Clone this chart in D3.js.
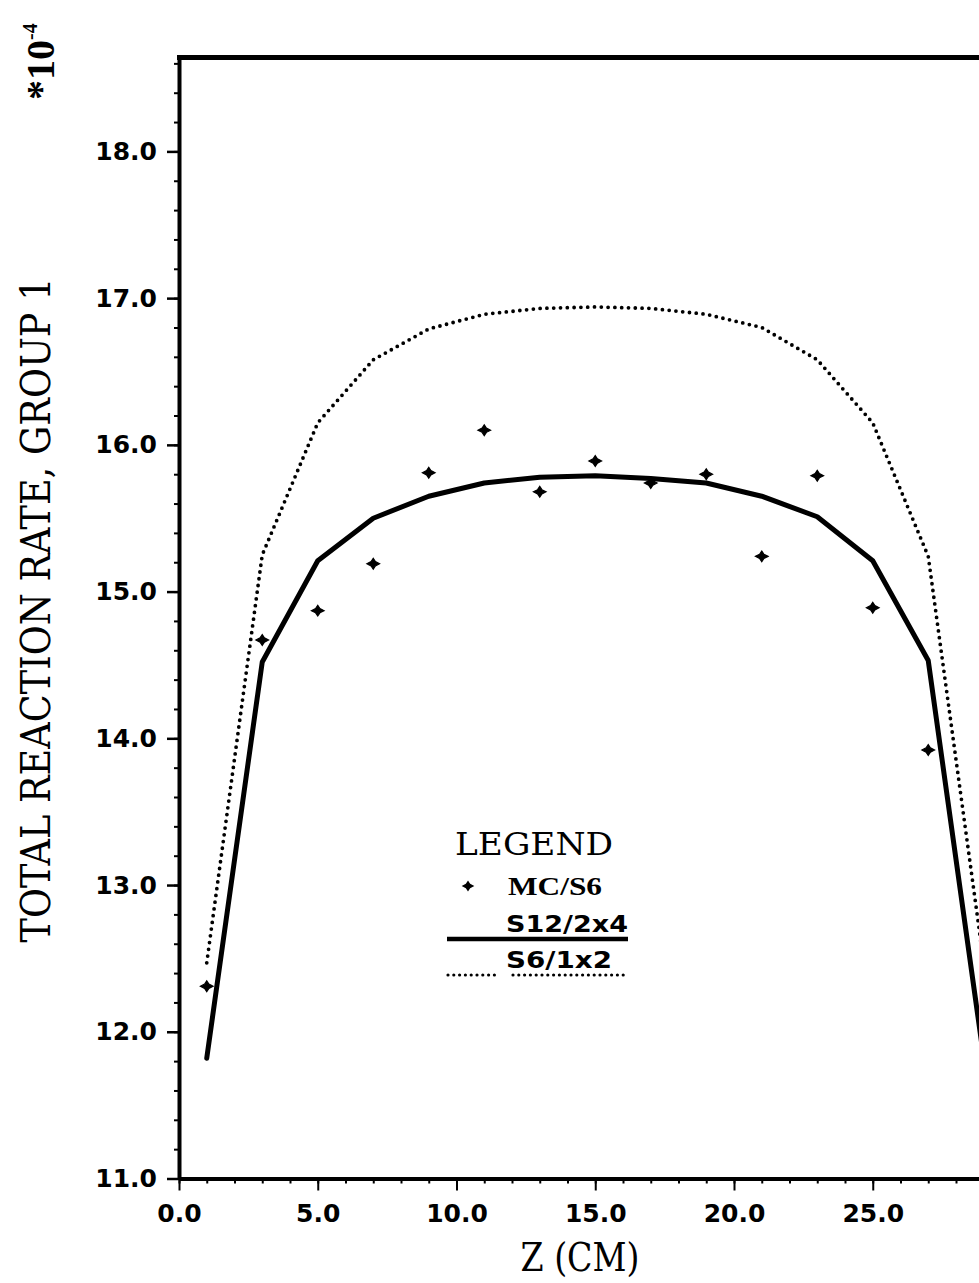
<!DOCTYPE html>
<html>
<head>
<meta charset="utf-8">
<script src="https://cdnjs.cloudflare.com/ajax/libs/d3/7.8.5/d3.min.js"></script>
<style>
body { margin: 0; background: #fff; }
svg { display: block; background: #fff; }
</style>
</head>
<body>
<svg id="chart"></svg>
<script>
// positions along Z (cm)
const zLines = [1, 3, 5, 7, 9, 11, 13, 15, 17, 19, 21, 23, 25, 27, 29];
const zMC = [1, 3, 5, 7, 9, 11, 13, 15, 17, 19, 21, 23, 25, 27];

// values in units of 1e-4
const mcS6 = [12.31, 14.67, 14.87, 15.19, 15.81, 16.10, 15.68, 15.89, 15.74, 15.80, 15.24, 15.79, 14.89, 13.92];
const s12 = [11.82, 14.52, 15.21, 15.50, 15.65, 15.74, 15.78, 15.79, 15.77, 15.74, 15.65, 15.51, 15.21, 14.53, 11.82];
const s6 = [12.47, 15.25, 16.15, 16.58, 16.79, 16.89, 16.93, 16.94, 16.93, 16.89, 16.80, 16.58, 16.15, 15.24, 12.47];

const xMajor = [0, 5, 10, 15, 20, 25];
const xMinor = d3.range(0, 31);
const yMajor = [11, 12, 13, 14, 15, 16, 17, 18];
const yMinor = d3.range(0, 39).map(i => 11 + i * 0.2);

const width = 979, height = 1283;
const yTop = 18.64;

const svg = d3.select("#chart")
    .attr("width", width)
    .attr("height", height);

const x = d3.scaleLinear().domain([0, 30]).range([179, 1011.5]);
const y = d3.scaleLinear().domain([11, yTop]).range([1178.5, 57.5]);

const fmt = d3.format(".1f");
const tickFont = "'DejaVu Sans', sans-serif";
const serif = "'DejaVu Serif', 'Liberation Serif', serif";
const serifLight = "'Liberation Serif', 'DejaVu Serif', serif";

// minor ticks
svg.append("g")
    .attr("transform", `translate(0,${y(11)})`)
    .call(d3.axisBottom(x).tickValues(xMinor).tickSize(5).tickSizeOuter(0).tickFormat(""))
    .call(g => g.select(".domain").remove())
    .call(g => g.selectAll("line").attr("stroke-width", 2));

svg.append("g")
    .attr("transform", `translate(${x(0)},0)`)
    .call(d3.axisLeft(y).tickValues(yMinor).tickSize(5).tickSizeOuter(0).tickFormat(""))
    .call(g => g.select(".domain").remove())
    .call(g => g.selectAll("line").attr("stroke-width", 2));

// major ticks + labels
svg.append("g")
    .attr("transform", `translate(0,${y(11)})`)
    .call(d3.axisBottom(x).tickValues(xMajor).tickSize(12).tickPadding(14).tickSizeOuter(0).tickFormat(fmt))
    .call(g => g.select(".domain").attr("stroke-width", 4))
    .call(g => g.selectAll("line").attr("stroke-width", 2))
    .call(g => g.selectAll("text")
        .attr("fill", "#000")
        .style("font-family", tickFont)
        .style("font-weight", "bold")
        .style("font-size", "25px"));

svg.append("g")
    .attr("transform", `translate(${x(0)},0)`)
    .call(d3.axisLeft(y).tickValues(yMajor).tickSize(12).tickPadding(10).tickSizeOuter(0).tickFormat(fmt))
    .call(g => g.select(".domain").attr("stroke-width", 4))
    .call(g => g.selectAll("line").attr("stroke-width", 2.5))
    .call(g => g.selectAll("text")
        .attr("fill", "#000")
        .style("font-family", tickFont)
        .style("font-weight", "bold")
        .style("font-size", "25px"));

// top frame
svg.append("line")
    .attr("x1", x(0) - 2)
    .attr("x2", x(30))
    .attr("y1", y(yTop))
    .attr("y2", y(yTop))
    .attr("stroke", "#000")
    .attr("stroke-width", 5);

// curves
const line = d3.line()
    .x(d => x(d[0]))
    .y(d => y(d[1]));

svg.append("path")
    .datum(d3.zip(zLines, s6))
    .attr("d", line)
    .attr("fill", "none")
    .attr("stroke", "#000")
    .attr("stroke-width", 3.8)
    .attr("stroke-linecap", "round")
    .attr("stroke-dasharray", "0 6.8");

svg.append("path")
    .datum(d3.zip(zLines, s12))
    .attr("d", line)
    .attr("fill", "none")
    .attr("stroke", "#000")
    .attr("stroke-width", 5)
    .attr("stroke-linejoin", "round")
    .attr("stroke-linecap", "round");

// 4 pointed plus marker
const plusStar = {
    draw(context, size) {
        const r = Math.sqrt(size) / 2;
        const k = r * 0.34;
        context.moveTo(r, 0);
        context.lineTo(k, k);
        context.lineTo(0, r * 0.85);
        context.lineTo(-k, k);
        context.lineTo(-r, 0);
        context.lineTo(-k, -k);
        context.lineTo(0, -r * 0.85);
        context.lineTo(k, -k);
        context.closePath();
    }
};
const marker = d3.symbol().type(plusStar).size(160);

svg.append("g")
    .selectAll("path")
    .data(d3.zip(zMC, mcS6))
    .join("path")
    .attr("transform", d => `translate(${x(d[0])},${y(d[1])})`)
    .attr("d", marker)
    .attr("fill", "#000")
    .attr("stroke", "#000")
    .attr("stroke-width", 1.2);

// axis titles
svg.append("text")
    .attr("transform", "translate(50,610) rotate(-90)")
    .attr("text-anchor", "middle")
    .attr("textLength", 665)
    .attr("lengthAdjust", "spacingAndGlyphs")
    .style("font-family", serif)
    .style("font-size", "41px")
    .text("TOTAL REACTION RATE, GROUP 1");

svg.append("text")
    .attr("x", 580)
    .attr("y", 1271)
    .attr("text-anchor", "middle")
    .attr("textLength", 119)
    .attr("lengthAdjust", "spacingAndGlyphs")
    .style("font-family", serif)
    .style("font-size", "39px")
    .text("Z (CM)");

// multiplier
const mult = svg.append("text")
    .attr("transform", "translate(54,100) rotate(-90)")
    .style("font-family", serifLight)
    .style("font-weight", "bold")
    .style("font-size", "40px");
mult.append("tspan").text("*10");
mult.append("tspan")
    .attr("dy", -17)
    .style("font-size", "20px")
    .text("-4");

// legend
const legend = svg.append("g");

legend.append("text")
    .attr("x", 455)
    .attr("y", 855)
    .attr("textLength", 158)
    .attr("lengthAdjust", "spacingAndGlyphs")
    .style("font-family", serif)
    .style("font-size", "31px")
    .text("LEGEND");

legend.append("path")
    .attr("transform", "translate(468,886)")
    .attr("d", marker)
    .attr("fill", "#000");

legend.append("text")
    .attr("x", 508)
    .attr("y", 895)
    .attr("textLength", 94)
    .attr("lengthAdjust", "spacingAndGlyphs")
    .style("font-family", serifLight)
    .style("font-weight", "bold")
    .style("font-size", "25px")
    .text("MC/S6");

legend.append("text")
    .attr("x", 506)
    .attr("y", 932)
    .attr("textLength", 122)
    .attr("lengthAdjust", "spacingAndGlyphs")
    .style("font-family", tickFont)
    .style("font-weight", "bold")
    .style("font-size", "23px")
    .text("S12/2x4");

legend.append("line")
    .attr("x1", 447).attr("x2", 628)
    .attr("y1", 939).attr("y2", 939)
    .attr("stroke", "#000")
    .attr("stroke-width", 4.5);

legend.append("text")
    .attr("x", 506)
    .attr("y", 968)
    .attr("textLength", 106)
    .attr("lengthAdjust", "spacingAndGlyphs")
    .style("font-family", tickFont)
    .style("font-weight", "bold")
    .style("font-size", "23px")
    .text("S6/1x2");

[[448, 495], [513, 628]].forEach(s => {
    legend.append("line")
        .attr("x1", s[0]).attr("x2", s[1])
        .attr("y1", 975).attr("y2", 975)
        .attr("stroke", "#000")
        .attr("stroke-width", 3.2)
        .attr("stroke-linecap", "round")
        .attr("stroke-dasharray", "0 5.8");
});
</script>
</body>
</html>
